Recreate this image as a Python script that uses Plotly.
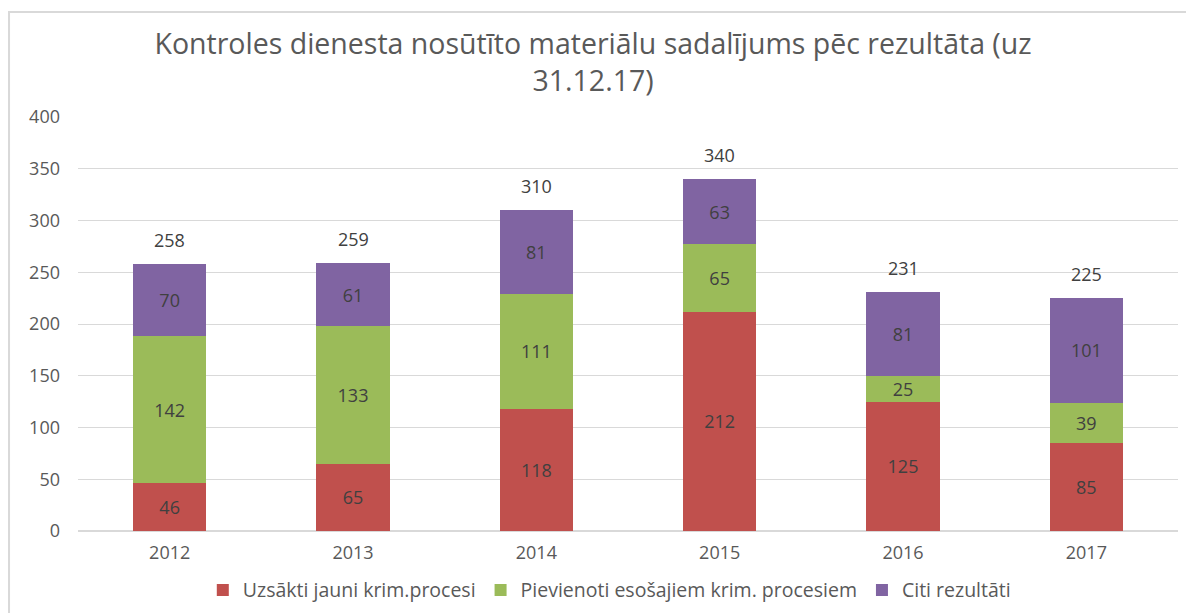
import plotly.graph_objects as go

years = ["2012", "2013", "2014", "2015", "2016", "2017"]
uzsakti = [46, 65, 118, 212, 125, 85]
pievienoti = [142, 133, 111, 65, 25, 39]
citi = [70, 61, 81, 63, 81, 101]
totals = [258, 259, 310, 340, 231, 225]

names = ["Uzsākti jauni krim.procesi", "Pievienoti esošajiem krim. procesiem", "Citi rezultāti"]
colors = ["#C0504D", "#9BBB59", "#8064A2"]
series = [uzsakti, pievienoti, citi]

FONT = "Open Sans"
fig = go.Figure()
for name, col, vals in zip(names, colors, series):
    fig.add_trace(go.Bar(
        x=years, y=vals, name=name,
        marker=dict(color=col, line=dict(width=0)),
        text=[str(v) for v in vals],
        textposition="inside", insidetextanchor="middle",
        textangle=0, constraintext="none",
        textfont=dict(family=FONT, size=18, color="#404040"),
        hoverinfo="x+y+name",
    ))

# category index positions for total labels
for i, t in enumerate(totals):
    fig.add_annotation(x=i, y=t, xref="x", yref="y", text=str(t), showarrow=False,
                       yanchor="middle", yshift=24,
                       font=dict(family=FONT, size=18, color="#404040"))

fig.add_shape(type="rect", xref="paper", yref="paper",
              x0=-0.0627, x1=1.2, y0=-0.5, y1=1.2536,
              line=dict(color="#D9D9D9", width=2), fillcolor="rgba(0,0,0,0)",
              layer="below")

fig.update_layout(
    width=1194, height=613,
    margin=dict(l=70, r=24, t=109, b=90, autoexpand=False),
    paper_bgcolor="white", plot_bgcolor="white",
    barmode="stack", bargap=0.6,
    title=dict(text="Kontroles dienesta nosūtīto materiālu sadalījums pēc rezultāta (uz<br>31.12.17)",
               x=0.49, xanchor="center", y=0.925, yanchor="middle",
               font=dict(family=FONT, size=28.5, color="#595959")),
    legend=dict(orientation="h", x=0.483, xanchor="center", y=-0.143, yanchor="middle",
                font=dict(family=FONT, size=19.5, color="#595959"),
                traceorder="normal", itemsizing="constant"),
    showlegend=True,
)
fig.update_yaxes(range=[0, 400], dtick=50, showgrid=True, gridcolor="#D9D9D9", gridwidth=1,
                 zeroline=True, zerolinecolor="#D9D9D9", showline=False,
                 tickfont=dict(family=FONT, size=18, color="#595959"), ticks="", ticklabelstandoff=17)
fig.update_xaxes(type="category", range=[-0.5, len(years) - 0.5], showgrid=False, showline=True,
                 linecolor="#D9D9D9", ticks="", ticklabelstandoff=5,
                 tickfont=dict(family=FONT, size=18, color="#595959"))

fig.write_html("out.html")
